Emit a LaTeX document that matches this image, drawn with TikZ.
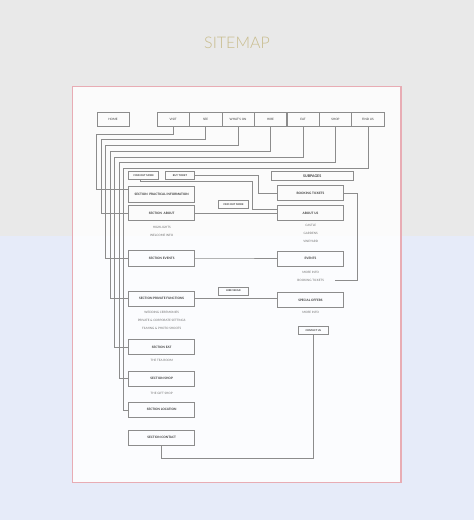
\documentclass[tikz,border=0pt]{standalone}
\usepackage{fontspec}
\setmainfont{Lato}
\newfontfamily\latolight{Lato Light}
\usetikzlibrary{calc}
\definecolor{bgtop}{RGB}{233,233,233}
\definecolor{bgbot}{RGB}{230,235,249}
\definecolor{framepink}{RGB}{232,172,180}
\definecolor{titlecol}{RGB}{200,188,140}
\definecolor{boxline}{RGB}{140,140,140}
\definecolor{txtdark}{RGB}{55,55,55}
\definecolor{txtlight}{RGB}{110,110,110}
\begin{document}
\begin{tikzpicture}[x=1pt,y=-1pt,
  box/.style={draw=boxline,line width=0.6pt,inner sep=0pt,font=\fontsize{3.1}{3.5}\selectfont\bfseries,text=txtdark},
  navbox/.style={box,minimum width=32.4pt,minimum height=14pt,font=\fontsize{3}{3.5}\selectfont},
  secbox/.style={box,minimum width=66pt,minimum height=15.3pt},
  rbox/.style={box,minimum width=66.4pt,minimum height=15pt},
  tagbox/.style={box,minimum width=30pt,minimum height=8pt,font=\fontsize{2.5}{3}\selectfont\bfseries},
  sub/.style={inner sep=0pt,font=\fontsize{3}{3.5}\selectfont,text=txtlight},
  link/.style={draw=boxline,line width=0.6pt},
]
% background
\fill[bgtop] (0,0) rectangle (474,236);
\fill[bgbot] (0,236) rectangle (474,520);
\useasboundingbox (0,0) rectangle (474,520);
\fill[white,opacity=0.85] (72.7,86.7) rectangle (401,482.7);
\draw[framepink,line width=1.1pt] (72.7,86.7) rectangle (401,482.7);

\node[inner sep=0pt,font=\latolight\fontsize{16}{16}\selectfont,text=titlecol] (title) at (237,43) {SITEMAP};

% navigation
\node[navbox] (home) at (113,119.25) {HOME};
\node[navbox] (visit) at (173.2,119.25) {VISIT};
\node[navbox] (see) at (205.65,119.25) {SEE};
\node[navbox] (whatson) at (238.1,119.25) {WHAT'S ON};
\node[navbox] (hire) at (270.55,119.25) {HIRE};
\node[navbox] (eat) at (303,119.25) {EAT};
\node[navbox] (shop) at (335.45,119.25) {SHOP};
\node[navbox] (findus) at (367.9,119.25) {FIND US};

% tags
\node[tagbox] (findmore1) at (143.7,175.3) {FIND OUT MORE};
\node[tagbox,minimum width=29.4pt] (buyticket) at (180,175.3) {BUY TICKET};
\node[box,minimum width=82.3pt,minimum height=8.3pt,font=\fontsize{3.6}{4}\selectfont\bfseries] (subpages) at (312.2,175.8) {SUBPAGES};
\node[tagbox,minimum width=29.6pt] (findmore2) at (233.5,204.3) {FIND OUT MORE};
\node[tagbox,minimum width=29.6pt] (hirevenue) at (233.5,291) {HIRE VENUE};
\node[tagbox] (contactus) at (313.3,330.3) {CONTACT US};

% left sections
\node[secbox,minimum height=15.6pt] (practical) at (161.7,194.5) {SECTION\ \ PRACTICAL INFORMATION};
\node[secbox] (about) at (161.7,213) {SECTION\ \ ABOUT};
\node[secbox] (events) at (161.7,258.3) {SECTION EVENTS};
\node[secbox] (private) at (161.7,298.7) {SECTION PRIVATE FUNCTIONS};
\node[secbox] (eatsec) at (161.7,347) {SECTION EAT};
\node[secbox] (shopsec) at (161.7,378.5) {SECTION SHOP};
\node[secbox] (location) at (161.7,409.8) {SECTION LOCATION};
\node[secbox] (contact) at (161.7,437.8) {SECTION CONTACT};

% right column
\node[rbox] (booking) at (310.5,193.2) {BOOKING TICKETS};
\node[rbox] (aboutus) at (310.5,213) {ABOUT US};
\node[rbox] (eventsr) at (310.5,258.5) {EVENTS};
\node[rbox] (special) at (310.5,300) {SPECIAL OFFERS};

% sub texts
\node[sub] (t1) at (161.7,227) {HIGHLIGHTS};
\node[sub] (t2) at (161.7,235) {WELCOME INFO};
\node[sub] (t3) at (310.7,225.7) {CASTLE};
\node[sub] (t4) at (310.7,233.3) {GARDENS};
\node[sub] (t5) at (310.7,241.3) {VINEYARD};
\node[sub] (t6) at (310.7,272.3) {MORE INFO};
\node[sub] (t7) at (310.7,280.3) {BOOKING TICKETS};
\node[sub] (t8) at (161.7,312.3) {WEDDING CEREMONIES};
\node[sub] (t9) at (161.7,320.2) {PRIVATE \& CORPORATE SETTINGS};
\node[sub] (t10) at (161.7,328) {FILMING \& PHOTO SHOOTS};
\node[sub] (t11) at (310.7,312.3) {MORE INFO};
\node[sub] (t12) at (161.7,360.7) {THE TEA ROOM};
\node[sub] (t13) at (161.7,393) {THE GIFT SHOP};

% nav to sections
\draw[link] (visit.south) |- (96.5,134) |- ([yshift=5pt]practical.west);
\draw[link] (see.south) |- (101,139.75) |- (about.west);
\draw[link] (whatson.south) |- (105.5,145.5) |- (events.west);
\draw[link] (hire.south) |- (110,151.25) |- (private.west);
\draw[link] (eat.south) |- (114.5,157) |- (eatsec.west);
\draw[link] (shop.south) |- (119,162.75) |- (shopsec.west);
\draw[link] (findus.south) |- (123.5,168.5) |- (location.west);

% cross links
\draw[link] ([xshift=-3.5pt]findmore1.south) |- (252.5,181.5) |- ([yshift=3.5pt]aboutus.west);
\draw[link] (buyticket.east) -| (258,193.2) -- (booking.west);
\draw[link] (about.east) -- (aboutus.west);
\draw[link] (events.east) -- (eventsr.west);
\draw[link] (private.east) -- (private.east -| special.west);
\coordinate (btend) at (335,280.3);
\draw[link] (booking.east) -| (357,280.3) -- (btend);
\draw[link] (contactus.south) |- ([yshift=-12.3pt]contact.south) -- (contact.south);
\end{tikzpicture}
\end{document}
